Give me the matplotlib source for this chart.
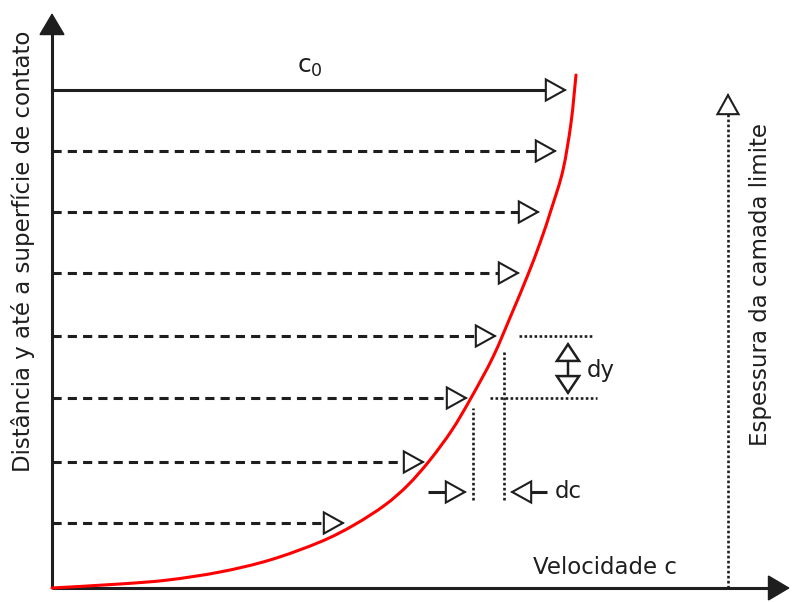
import matplotlib
matplotlib.use("Agg")
import matplotlib.pyplot as plt
from matplotlib.patches import FancyArrowPatch, PathPatch
from matplotlib.path import Path

plt.rcParams["font.family"] = ["DejaVu Sans"]

# heights of the velocity arrows (distance y) and their lengths (velocity c)
levels_y = [498, 437, 376, 315, 252, 190, 126, 65]
arrow_c = [515, 505, 488, 468, 445, 416, 373, 293]

# velocity profile
profile_c = [0, 68, 116, 168, 218, 268, 302, 333, 356, 378, 400, 419, 441, 460, 475, 488, 500, 511, 519, 524]
profile_y = [0, 4, 8, 16, 28, 46, 63, 83, 103, 128, 158, 190, 231, 275, 311, 345, 381, 418, 465, 513]

# the dy / dc construction
dy_levels = [252, 190]
dc_positions = [421, 452]
layer_x = 676
layer_top = 495

ink = "#1e1e1e"
dashed = (0, (3, 2))
dotted = (0, (1, 0.9))
head = 19
open_head = "-|>,head_length=1.37,head_width=0.76"

fig = plt.figure(figsize=(7.92, 6.02), dpi=100)
ax = fig.add_axes([0, 0, 1, 1])
ax.set_xlim(-52, 740)
ax.set_ylim(-14, 588)
ax.axis("off")


def arrow(p0, p1, style, fc="white", lw=1.5, z=3):
    a = FancyArrowPatch(p0, p1, arrowstyle=style, mutation_scale=10, fc=fc, ec=ink,
                        lw=lw, shrinkA=0, shrinkB=0, zorder=z, joinstyle="miter")
    ax.add_patch(a)


# axes with filled arrowheads
ax.plot([0, 0], [0, 575 - 20], color=ink, lw=2.2, solid_capstyle="butt")
arrow((0, 555), (0, 575), "-|>,head_length=1.45,head_width=0.86", fc=ink, lw=1)
ax.plot([0, 718], [0, 0], color=ink, lw=2.2, solid_capstyle="butt")
arrow((718, 0), (738, 0), "-|>,head_length=1.45,head_width=0.86", fc=ink, lw=1)

# velocity arrows
for i, (y, c) in enumerate(zip(levels_y, arrow_c)):
    ls = "-" if i == 0 else dashed
    ax.plot([0, c - head], [y, y], color=ink, lw=2.2, linestyle=ls, dash_capstyle="butt")
    arrow((c - head, y), (c, y), open_head)

# velocity profile, drawn as a smooth path through the read points
pts = list(zip(profile_c, profile_y))
verts = [pts[0]]
codes = [Path.MOVETO]
for k in range(len(pts) - 1):
    p0 = pts[max(k - 1, 0)]
    p1 = pts[k]
    p2 = pts[k + 1]
    p3 = pts[min(k + 2, len(pts) - 1)]
    c1 = (p1[0] + (p2[0] - p0[0]) / 6, p1[1] + (p2[1] - p0[1]) / 6)
    c2 = (p2[0] - (p3[0] - p1[0]) / 6, p2[1] - (p3[1] - p1[1]) / 6)
    verts += [c1, c2, p2]
    codes += [Path.CURVE4] * 3
ax.add_patch(PathPatch(Path(verts, codes), fill=False, ec="#ff0000", lw=2.2,
                       zorder=5, capstyle="round"))

# dotted construction lines
ax.plot([467, 541], [dy_levels[0]] * 2, color=ink, lw=1.9, linestyle=dotted)
ax.plot([438, 545], [dy_levels[1]] * 2, color=ink, lw=1.9, linestyle=dotted)
ax.plot([dc_positions[1]] * 2, [88, 238], color=ink, lw=1.9, linestyle=dotted)
ax.plot([dc_positions[0]] * 2, [88, 180], color=ink, lw=1.9, linestyle=dotted)

# dy double arrow
arrow((516, dy_levels[1] + 3), (516, dy_levels[0] - 6),
      "<|-|>,head_length=1.2,head_width=0.8", lw=1.8)

# dc arrows
ax.plot([376, 396], [96, 96], color=ink, lw=2.2, solid_capstyle="butt")
arrow((396, 96), (415, 96), open_head)
ax.plot([495, 477], [96, 96], color=ink, lw=2.2, solid_capstyle="butt")
arrow((477, 96), (458, 96), open_head)

# boundary layer thickness
ax.plot([layer_x, layer_x], [0, layer_top - head], color=ink, lw=1.9, linestyle=dotted)
arrow((layer_x, layer_top - head), (layer_x, layer_top), open_head)

# labels
fs = 16.5
ax.text(258, 521, r"$\mathregular{c_0}$", fontsize=18, color=ink, ha="center", va="center")
ax.text(553, 20, "Velocidade c", fontsize=fs, color=ink, ha="center", va="center")
ax.text(535, 218, "dy", fontsize=fs, color=ink, ha="left", va="center")
ax.text(503, 96, "dc", fontsize=fs, color=ink, ha="left", va="center")
ax.text(-29, 337, "Distância y até a superfície de contato", fontsize=fs, color=ink,
        rotation=90, ha="center", va="center")
ax.text(708, 304, "Espessura da camada limite", fontsize=fs, color=ink,
        rotation=90, ha="center", va="center")

fig.savefig("out.png", dpi=100)
